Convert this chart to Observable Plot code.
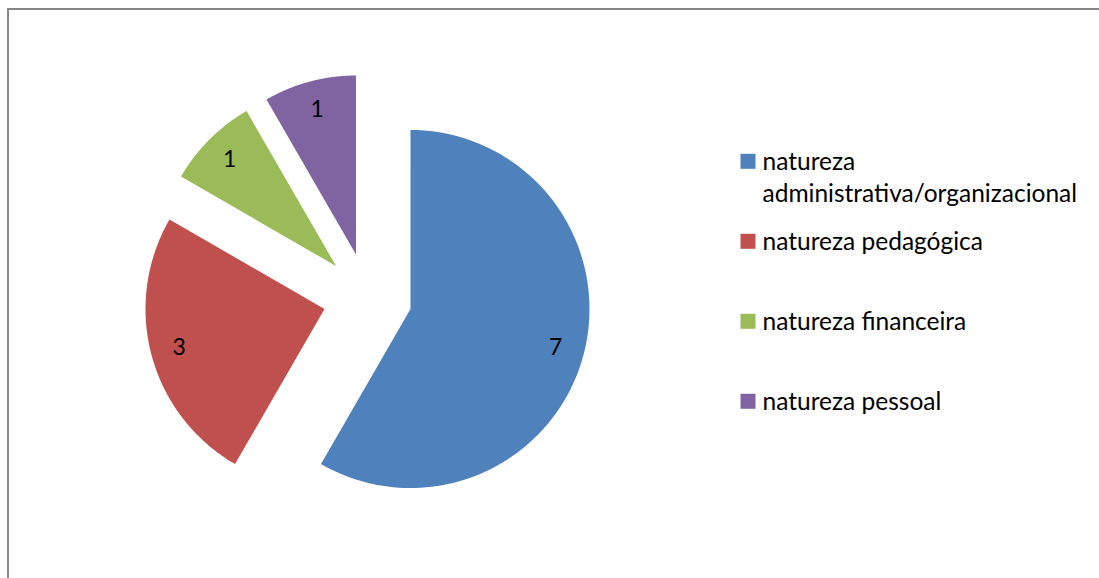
<!DOCTYPE html>
<html>
<head>
<meta charset="utf-8">
<script src="https://cdn.jsdelivr.net/npm/d3@7"></script>
<script src="https://cdn.jsdelivr.net/npm/@observablehq/plot@0.6"></script>
<style>
  html, body { margin: 0; padding: 0; background: #fff; overflow: hidden; }
  #wrap { position: relative; width: 1099px; height: 578px; }
  #frame { position: absolute; left: 7px; top: 8px; width: 1200px; height: 700px;
           border-left: 2px solid #868686; border-top: 2px solid #868686; pointer-events: none; }
  #chart { position: absolute; left: 0; top: 0; }
</style>
</head>
<body>
<div id="wrap"><div id="chart"></div><div id="frame"></div></div>
<script>
const categories = [
  "natureza administrativa/organizacional",
  "natureza pedagógica",
  "natureza financeira",
  "natureza pessoal"
];
const values = [7, 3, 1, 1];
const colors = ["#4F81BD", "#C0504D", "#9BBB59", "#8064A2"];

const W = 1099, H = 578;
const cx = 367, cy = 297, R = 179, explode = 44.5, labelR = 0.84 * R;
const font = "Lato, 'Open Sans', sans-serif";
const fs = 24.5, lh = 1.31;

const arcs = d3.pie().sort(null).value(d => d.value)(
  categories.map((name, i) => ({name, value: values[i]}))
);

const pt = (ox, oy, r, a) => [ox + r * Math.sin(a), oy - r * Math.cos(a)];

const polys = [];
const labels = [];
arcs.forEach(a => {
  const mid = (a.startAngle + a.endAngle) / 2;
  const [tx, ty] = pt(cx, cy, explode, mid);
  polys.push({name: a.data.name, x: tx, y: ty});
  const n = 120;
  for (let k = 0; k <= n; k++) {
    const ang = a.startAngle + (a.endAngle - a.startAngle) * k / n;
    const [x, y] = pt(tx, ty, R, ang);
    polys.push({name: a.data.name, x, y});
  }
  const [lx, ly] = pt(tx, ty, labelR, mid);
  labels.push({name: a.data.name, value: a.data.value, x: lx, y: ly});
});

const legend = categories.map((name, i) => ({name, x: 747.5, y: 160.8 + 80 * i}));

const chart = Plot.plot({
  width: W, height: H,
  margin: 0,
  x: {domain: [0, W], range: [0, W], axis: null},
  y: {domain: [0, H], range: [0, H], axis: null},
  color: {domain: categories, range: colors},
  style: {fontFamily: font, background: "transparent"},
  marks: [
    Plot.line(polys, {x: "x", y: "y", z: "name", fill: "name", stroke: null, curve: "linear-closed"}),
    Plot.text(labels, {x: "x", y: "y", text: d => String(d.value), fontSize: 23, fill: "#000"}),
    Plot.dot(legend, {x: "x", y: "y", fill: "name", symbol: "square", r: 15 / Math.sqrt(Math.PI), stroke: null}),
    Plot.text(legend, {x: d => d.x + 14.5, y: d => d.y + 7 - (0.71 + (lh - 1) / 2) * fs, text: "name", textAnchor: "start",
      lineAnchor: "top", lineWidth: 15, lineHeight: lh, fontSize: fs, fill: "#000"})
  ]
});
document.getElementById("chart").appendChild(chart);
</script>
</body>
</html>
